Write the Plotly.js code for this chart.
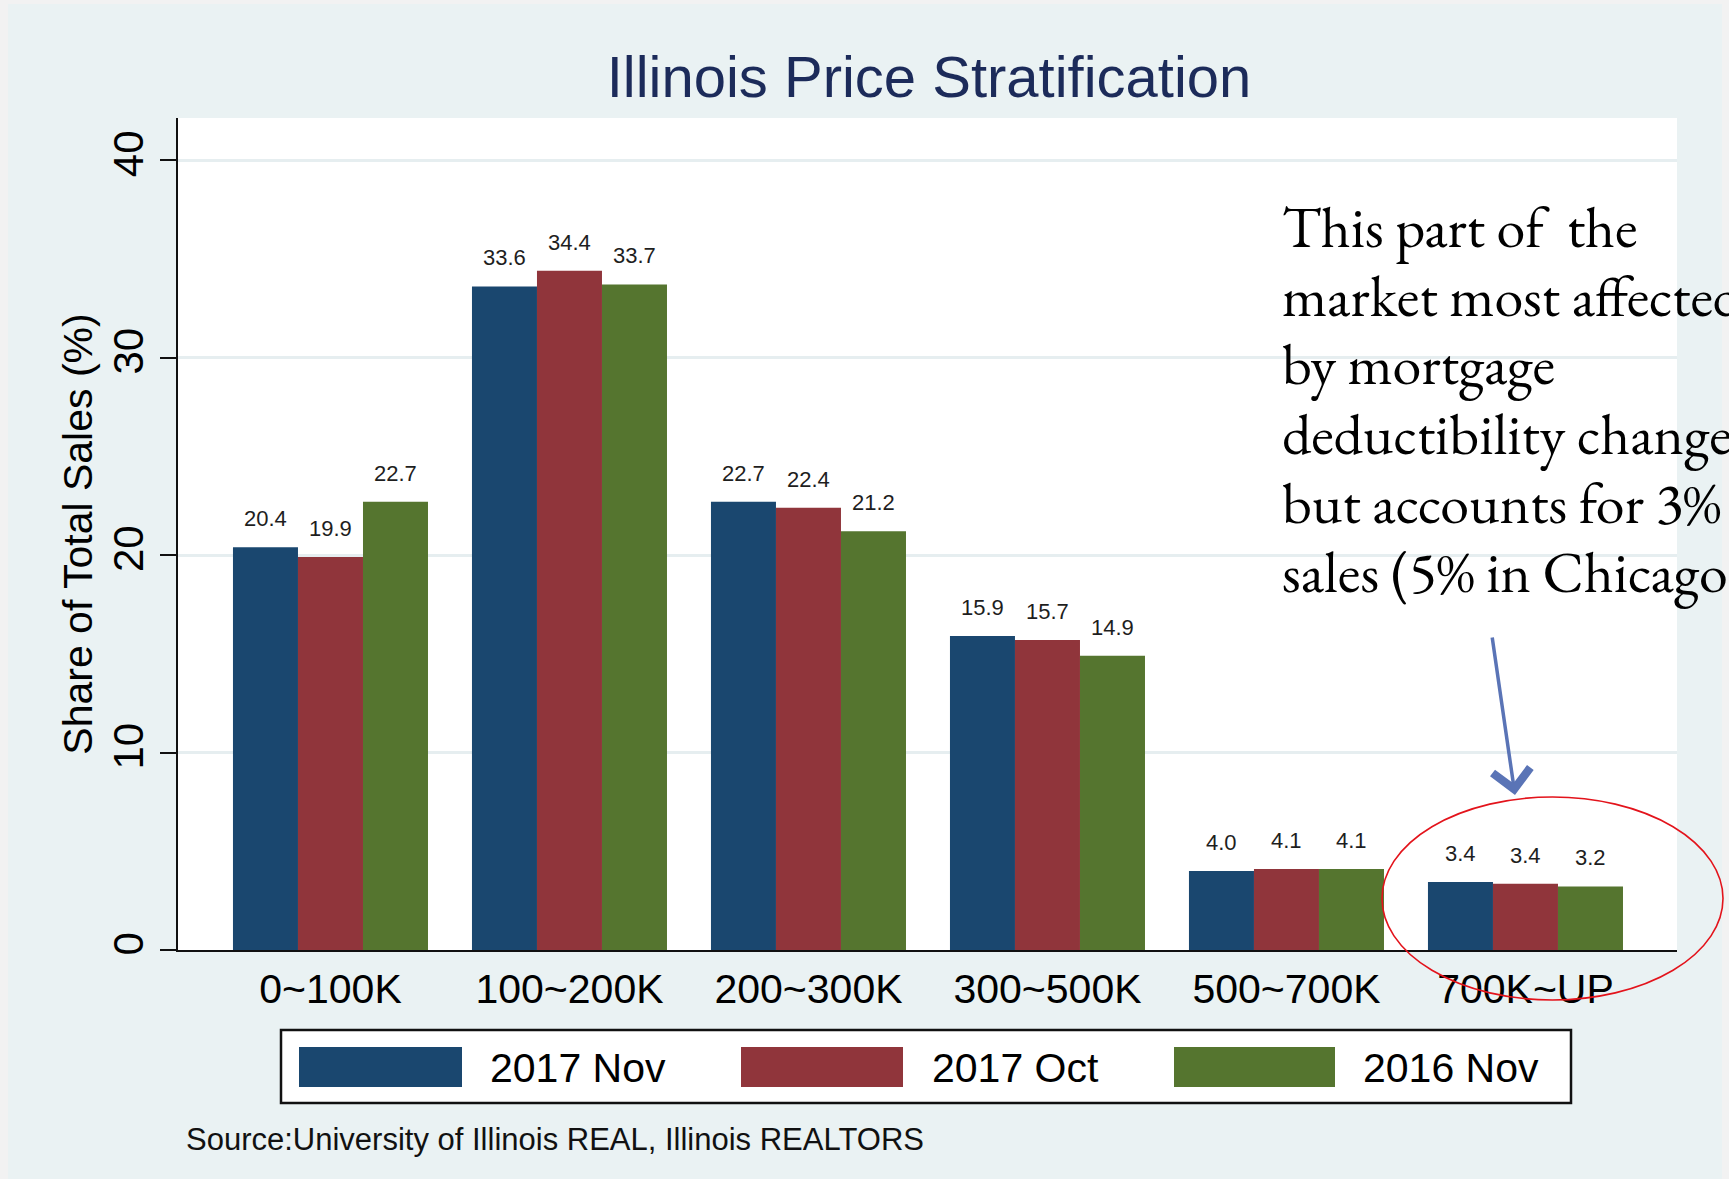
<!DOCTYPE html>
<html><head><meta charset="utf-8">
<script src="https://cdn.plot.ly/plotly-3.0.1.min.js"></script>
<style>html,body{margin:0;padding:0;background:#f2f2f2;overflow:hidden}#chart{width:1729px;height:1179px}</style>
</head><body><div id="chart"></div>
<script>
// ---- data ----
const categories = ['0~100K', '100~200K', '200~300K', '300~500K', '500~700K', '700K~UP'];
const seriesNames = ['2017 Nov', '2017 Oct', '2016 Nov'];
const nov2017 = [20.4, 33.6, 22.7, 15.9, 4.0, 3.44];
const oct2017 = [19.9, 34.4, 22.4, 15.7, 4.1, 3.36];
const nov2016 = [22.7, 33.7, 21.2, 14.9, 4.1, 3.22];
const yTickVals = [0, 10, 20, 30, 40];
const titleText = 'Illinois Price Stratification';
const yTitleText = 'Share of Total Sales (%)';
const sourceText = 'Source:University of Illinois REAL, Illinois REALTORS';
const noteLines = ['This part of\u00a0 the', 'market most affected', 'by mortgage', 'deductibility changes,', 'but accounts for 3% of', 'sales (5% in Chicago)'];

// ---- styling / geometry ----
const W = 1729, H = 1179;
const L = 178, R = 1677, T = 118, B = 950;
const colors = ['#1a476f', '#90353b', '#55752f'];
const FONT = 'Liberation Sans, Arial, Helvetica, sans-serif';
const SERIF = 'EB Garamond, Garamond, Liberation Serif, Times New Roman, serif';
const xRange = [-0.638, 5.634];
const yRange = [0, 42.13];
const bargap = 0.184;
const fx = x => (x - L) / (R - L);
const fy = y => (B - y) / (B - T);
const barPx = (R - L) / (xRange[1] - xRange[0]) * (1 - bargap) / 3;

const series = [nov2017, oct2017, nov2016];
const traces = series.map((vals, i) => ({
  type: 'bar', name: seriesNames[i], x: categories, y: vals,
  marker: {color: colors[i], line: {width: 0}}, showlegend: false,
  hoverinfo: 'x+y+name'
}));

const annotations = [];
series.forEach((vals, i) => {
  vals.forEach((v, j) => {
    annotations.push({
      x: categories[j], y: v, xref: 'x', yref: 'y', text: v.toFixed(1),
      showarrow: false, yanchor: 'bottom', xanchor: 'center',
      xshift: (i - 1) * barPx, yshift: 14,
      font: {family: FONT, size: 22, color: '#1e1e1e'}
    });
  });
});

// custom legend
const shapes = [
  {type: 'rect', xref: 'paper', yref: 'paper', x0: fx(8), x1: fx(1722), y0: fy(4), y1: fy(H + 5),
   fillcolor: '#eaf2f3', line: {width: 0}, layer: 'below'},
  {type: 'rect', xref: 'paper', yref: 'paper', x0: 0, x1: 1, y0: 0, y1: 1,
   fillcolor: '#ffffff', line: {width: 0}, layer: 'below'},
  {type: 'rect', xref: 'paper', yref: 'paper', x0: fx(281), x1: fx(1571), y0: fy(1030), y1: fy(1103),
   fillcolor: '#ffffff', line: {color: '#111111', width: 2.5}, layer: 'above'}
];
const swatchX = [[299, 462], [741, 903], [1174, 1335]];
const labelX = [488, 930, 1361];
seriesNames.forEach((n, i) => {
  shapes.push({type: 'rect', xref: 'paper', yref: 'paper', x0: fx(swatchX[i][0]), x1: fx(swatchX[i][1]),
    y0: fy(1047), y1: fy(1087), fillcolor: colors[i], line: {width: 0}, layer: 'above'});
  annotations.push({xref: 'paper', yref: 'paper', x: fx(labelX[i]), y: fy(1068), text: n, showarrow: false,
    xanchor: 'left', yanchor: 'middle', font: {family: FONT, size: 41, color: '#000'}});
});

// red ellipse
shapes.push({type: 'circle', xref: 'paper', yref: 'paper', x0: fx(1382), x1: fx(1723), y0: fy(1000), y1: fy(797),
  line: {color: '#e3131b', width: 1.6}, fillcolor: 'rgba(0,0,0,0)', layer: 'above'});

// source
annotations.push({xref: 'paper', yref: 'paper', x: fx(184), y: fy(1139), text: sourceText, showarrow: false,
  xanchor: 'left', yanchor: 'middle', font: {family: FONT, size: 31, color: '#111'}});

// note text, one line per annotation for exact line spacing
const noteTop = 226, noteStep = 69;
noteLines.forEach((line, k) => {
  annotations.push({xref: 'paper', yref: 'paper', x: fx(1280), y: fy(noteTop + k * noteStep), text: line, showarrow: false,
    xanchor: 'left', yanchor: 'middle', align: 'left', font: {family: SERIF, size: 58, color: '#000'}});
});

// arrow
annotations.push({xref: 'paper', yref: 'paper', x: fx(1515), y: fy(795), ax: -23, ay: -159, axref: 'pixel', ayref: 'pixel',
  text: '', showarrow: true, arrowhead: 4, arrowsize: 2.1, arrowwidth: 3.5, arrowcolor: '#5a74b6'});

const layout = {
  width: W, height: H,
  margin: {l: L, r: W - R, t: T, b: H - B, pad: 0},
  paper_bgcolor: '#f2f2f2', plot_bgcolor: 'rgba(0,0,0,0)',
  barmode: 'group', bargap: bargap, bargroupgap: 0,
  showlegend: false,
  font: {family: FONT, color: '#000'},
  title: {text: titleText, font: {family: FONT, size: 58, color: '#1c2b5a'},
    x: 929 / W, xanchor: 'center', xref: 'container', y: 1 - 77 / H, yanchor: 'middle', yref: 'container'},
  xaxis: {type: 'category', range: xRange, showline: true, linecolor: '#111', linewidth: 2,
    ticks: '', showgrid: false, zeroline: false, tickfont: {family: FONT, size: 41, color: '#000'},
    ticklabelstandoff: 2},
  yaxis: {range: yRange, tickvals: yTickVals, ticks: 'outside', ticklen: 16, tickwidth: 2, tickcolor: '#111',
    showline: true, linecolor: '#111', linewidth: 2, zeroline: false,
    showgrid: true, gridcolor: '#e6eef0', gridwidth: 3, tickangle: -90,
    tickfont: {family: FONT, size: 42, color: '#000'},
    title: {text: yTitleText, font: {family: FONT, size: 41, color: '#000'}, standoff: 0}},
  annotations: annotations, shapes: shapes
};

Plotly.newPlot('chart', traces, layout, {displayModeBar: false, staticPlot: true});
</script>
</body></html>
